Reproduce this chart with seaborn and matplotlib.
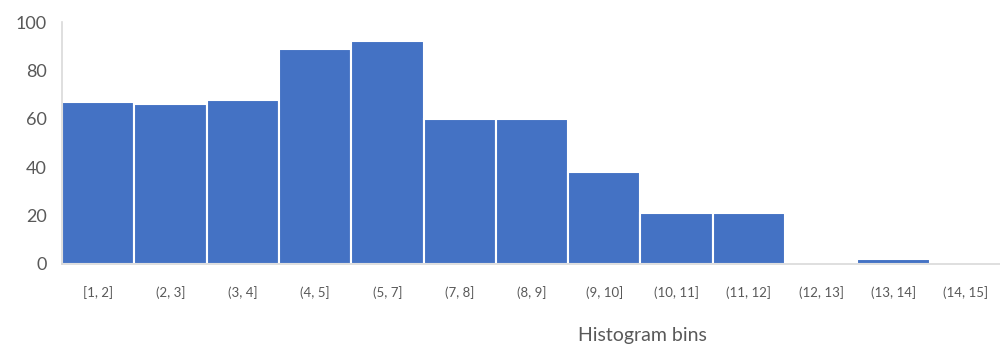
import matplotlib
matplotlib.use("Agg")
import matplotlib.pyplot as plt
import seaborn as sns
import pandas as pd

bins = ["[1, 2]", "(2, 3]", "(3, 4]", "(4, 5]", "(5, 7]", "(7, 8]", "(8, 9]",
        "(9, 10]", "(10, 11]", "(11, 12]", "(12, 13]", "(13, 14]", "(14, 15]"]
counts = [67, 66, 68, 89, 92, 60, 60, 38, 21, 21, 0, 2, 0]
y_ticks = [0, 20, 40, 60, 80, 100]

sns.set_theme(style="white")
plt.rcParams["font.family"] = ["Lato", "DejaVu Sans"]

text_color = "#595959"
axis_color = "#D9D9D9"

df = pd.DataFrame({"bin": bins, "count": counts})

fig = plt.figure(figsize=(10, 3.46), dpi=100)
ax = fig.add_axes([0.062, 0.237, 0.94, 0.699])

sns.barplot(data=df, x="bin", y="count", order=bins, color="#4472C4",
            saturation=1, width=1.0, edgecolor="white", linewidth=1.5, ax=ax)

ax.set_ylim(0, 100)
ax.set_xlim(-0.5, len(bins) - 0.5)
ax.set_yticks(y_ticks)
ax.set_ylabel("")
ax.set_xlabel("Histogram bins", fontsize=14, color=text_color)
ax.xaxis.set_label_coords(0.617, -0.262)

ax.tick_params(axis="y", length=0, pad=11, labelsize=13, labelcolor=text_color)
ax.tick_params(axis="x", length=0, pad=16, labelsize=9.5, labelcolor=text_color)

for side in ["top", "right"]:
    ax.spines[side].set_visible(False)
for side in ["left", "bottom"]:
    ax.spines[side].set_color(axis_color)
    ax.spines[side].set_linewidth(1.2)

fig.savefig("out.png", dpi=100)
